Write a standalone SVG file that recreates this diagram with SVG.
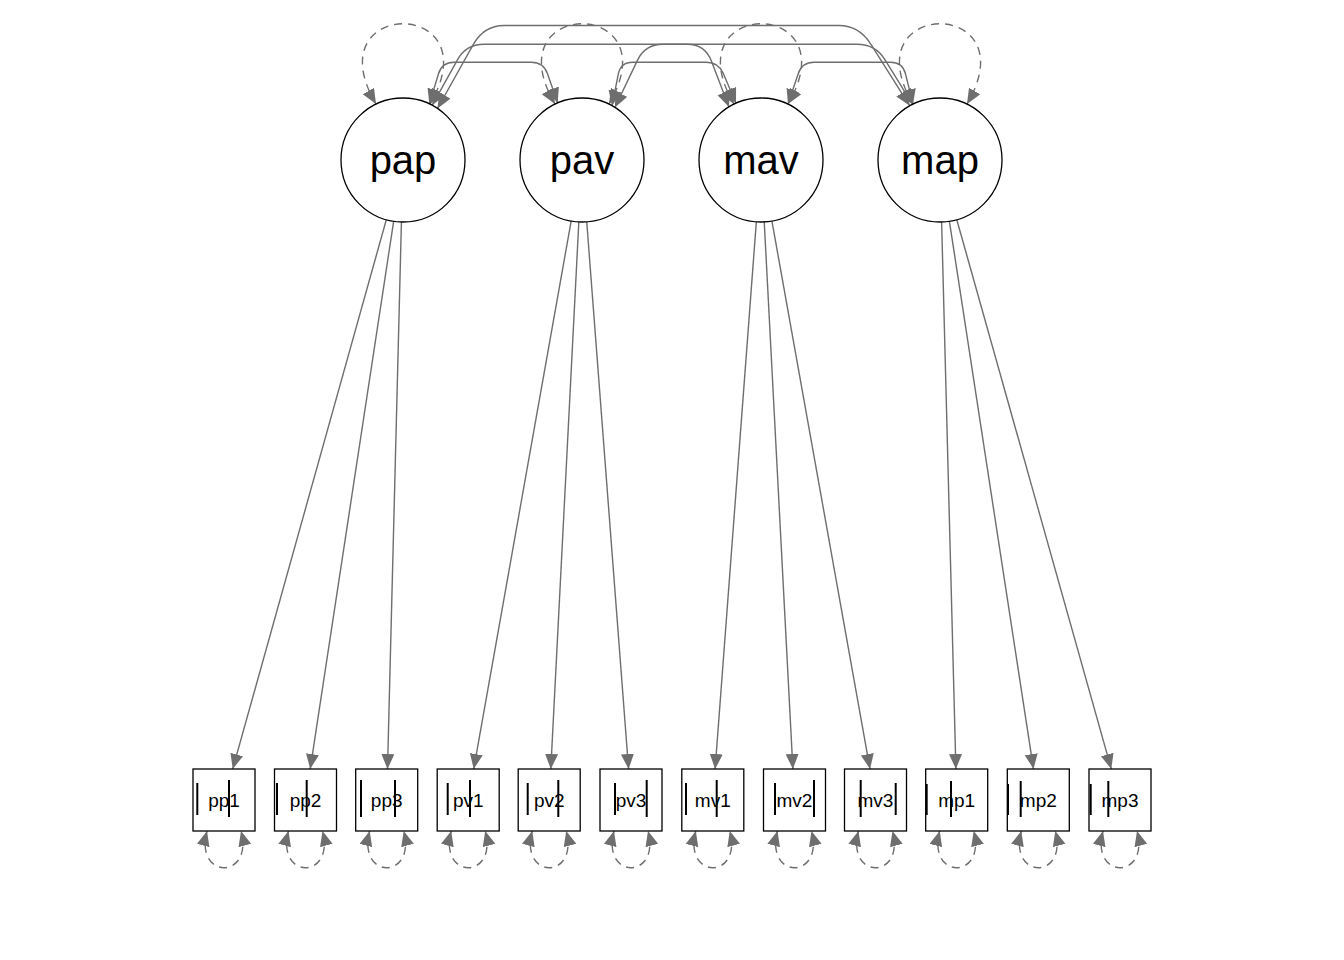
<svg xmlns="http://www.w3.org/2000/svg" width="1344" height="960" viewBox="0 0 1344 960">
<style>
.edge{fill:none;stroke:#6e6e6e;stroke-width:1.4}
.loop{fill:none;stroke:#6e6e6e;stroke-width:1.4;stroke-dasharray:8,6}
.lat{fill:#fff;stroke:#000;stroke-width:1.3}
.man{fill:#fff;stroke:#000;stroke-width:1.3}
.thr{stroke:#000;stroke-width:2}
.ll{font-family:"Liberation Sans",Arial,sans-serif;font-size:40px;text-anchor:middle;fill:#000}
.ml{font-family:"Liberation Sans",Arial,sans-serif;font-size:19px;text-anchor:middle;fill:#000}
</style>
<defs>
<marker id="ah" markerUnits="userSpaceOnUse" viewBox="0 0 16 14" markerWidth="16" markerHeight="14" refX="15" refY="6.5" orient="auto-start-reverse">
<path d="M0,0 L15,6.5 L0,13 z" fill="#6e6e6e"/>
</marker>
</defs>
<rect width="1344" height="960" fill="#fff"/>
<g id="connectors">
<!-- loadings -->
<path class="edge" marker-end="url(#ah)" d="M386.3,219.7 L232.7,769"/>
<path class="edge" marker-end="url(#ah)" d="M393.66,221.3 L310.2,769"/>
<path class="edge" marker-end="url(#ah)" d="M401.42,221.98 L387.5,769"/>
<path class="edge" marker-end="url(#ah)" d="M571.15,221.05 L473.7,769"/>
<path class="edge" marker-end="url(#ah)" d="M578.83,221.92 L550.8,769"/>
<path class="edge" marker-end="url(#ah)" d="M586.73,221.82 L628.6,769"/>
<path class="edge" marker-end="url(#ah)" d="M756.34,221.83 L715.1,769"/>
<path class="edge" marker-end="url(#ah)" d="M764.24,221.92 L792.9,769"/>
<path class="edge" marker-end="url(#ah)" d="M771.92,221.03 L870,769"/>
<path class="edge" marker-end="url(#ah)" d="M941.62,221.98 L955.9,769"/>
<path class="edge" marker-end="url(#ah)" d="M949.41,221.28 L1033.5,769"/>
<path class="edge" marker-end="url(#ah)" d="M956.79,219.69 L1111.3,769"/>
<!-- covariances -->
<path class="edge" marker-start="url(#ah)" marker-end="url(#ah)" d="M437.5,108.5 L473.2,44.7 Q484,25.5 504,25.5 H839 Q859,25.5 870.8,44.1 L909.8,105.8"/>
<path class="edge" marker-start="url(#ah)" marker-end="url(#ah)" d="M432.2,105.3 L457.3,60.05 Q466,44.3 484,44.3 H687 Q705,44.3 711.4,61.1 L729,106.9"/>
<path class="edge" marker-start="url(#ah)" marker-end="url(#ah)" d="M614.9,107.5 L637.3,60.6 Q645,44.3 663,44.3 H857 Q875.4,44.3 884.9,59.6 L912.6,104.3"/>
<path class="edge" marker-start="url(#ah)" marker-end="url(#ah)" d="M429.4,103.9 L438.5,73.8 Q442,62.3 454,62.3 H531.4 Q543.4,62.3 547.4,73.6 L557.7,102.9"/>
<path class="edge" marker-start="url(#ah)" marker-end="url(#ah)" d="M612,105.7 L618.3,74.1 Q620.7,62.3 632.7,62.3 H706.4 Q718.4,62.3 723.2,73.3 L736,103.2"/>
<path class="edge" marker-start="url(#ah)" marker-end="url(#ah)" d="M788,104.2 L798.2,73.7 Q802,62.3 814,62.3 H890.6 Q902.6,62.3 905.5,73.9 L913,104.2"/>
<!-- latent variances -->
<path class="loop" marker-start="url(#ah)" marker-end="url(#ah)" d="M376,104 C313,-3 493,-3 430,104"/>
<path class="loop" marker-start="url(#ah)" marker-end="url(#ah)" d="M555,104 C492,-3 672,-3 609,104"/>
<path class="loop" marker-start="url(#ah)" marker-end="url(#ah)" d="M734,104 C671,-3 851,-3 788,104"/>
<path class="loop" marker-start="url(#ah)" marker-end="url(#ah)" d="M913,104 C850,-3 1030,-3 967,104"/>
<!-- manifest residuals -->
<path class="loop" marker-start="url(#ah)" marker-end="url(#ah)" d="M207,831 C194,880 254,880 241,831"/>
<path class="loop" marker-start="url(#ah)" marker-end="url(#ah)" d="M288.5,831 C275.5,880 335.5,880 322.5,831"/>
<path class="loop" marker-start="url(#ah)" marker-end="url(#ah)" d="M369.7,831 C356.7,880 416.7,880 403.7,831"/>
<path class="loop" marker-start="url(#ah)" marker-end="url(#ah)" d="M451.2,831 C438.2,880 498.2,880 485.2,831"/>
<path class="loop" marker-start="url(#ah)" marker-end="url(#ah)" d="M532.2,831 C519.2,880 579.2,880 566.2,831"/>
<path class="loop" marker-start="url(#ah)" marker-end="url(#ah)" d="M614,831 C601,880 661,880 648,831"/>
<path class="loop" marker-start="url(#ah)" marker-end="url(#ah)" d="M695.8,831 C682.8,880 742.8,880 729.8,831"/>
<path class="loop" marker-start="url(#ah)" marker-end="url(#ah)" d="M777.5,831 C764.5,880 824.5,880 811.5,831"/>
<path class="loop" marker-start="url(#ah)" marker-end="url(#ah)" d="M858.5,831 C845.5,880 905.5,880 892.5,831"/>
<path class="loop" marker-start="url(#ah)" marker-end="url(#ah)" d="M939.7,831 C926.7,880 986.7,880 973.7,831"/>
<path class="loop" marker-start="url(#ah)" marker-end="url(#ah)" d="M1021.3,831 C1008.3,880 1068.3,880 1055.3,831"/>
<path class="loop" marker-start="url(#ah)" marker-end="url(#ah)" d="M1103,831 C1090,880 1150,880 1137,831"/>
</g>
<g id="pap"><circle class="lat" cx="403" cy="160" r="62"/><text class="ll" x="403" y="174">pap</text></g>
<g id="pav"><circle class="lat" cx="582" cy="160" r="62"/><text class="ll" x="582" y="174">pav</text></g>
<g id="mav"><circle class="lat" cx="761" cy="160" r="62"/><text class="ll" x="761" y="174">mav</text></g>
<g id="map"><circle class="lat" cx="940" cy="160" r="62"/><text class="ll" x="940" y="174">map</text></g>
<g id="pp1"><rect class="man" x="193" y="769" width="62" height="62"/><text class="ml" x="224" y="807">pp1</text><line class="thr" x1="197.3" y1="783" x2="197.3" y2="815"/><line class="thr" x1="229" y1="780" x2="229" y2="817"/></g>
<g id="pp2"><rect class="man" x="274.5" y="769" width="62" height="62"/><text class="ml" x="305.5" y="807">pp2</text><line class="thr" x1="277" y1="783" x2="277" y2="815"/><line class="thr" x1="306.7" y1="780" x2="306.7" y2="817"/></g>
<g id="pp3"><rect class="man" x="355.7" y="769" width="62" height="62"/><text class="ml" x="386.7" y="807">pp3</text><line class="thr" x1="361" y1="780" x2="361" y2="817"/><line class="thr" x1="395" y1="780" x2="395" y2="817"/></g>
<g id="pv1"><rect class="man" x="437.2" y="769" width="62" height="62"/><text class="ml" x="468.2" y="807">pv1</text><line class="thr" x1="447.7" y1="783" x2="447.7" y2="815"/><line class="thr" x1="470" y1="780" x2="470" y2="817"/></g>
<g id="pv2"><rect class="man" x="518.2" y="769" width="62" height="62"/><text class="ml" x="549.2" y="807">pv2</text><line class="thr" x1="527.7" y1="783" x2="527.7" y2="815"/><line class="thr" x1="558.3" y1="780" x2="558.3" y2="817"/></g>
<g id="pv3"><rect class="man" x="600" y="769" width="62" height="62"/><text class="ml" x="631" y="807">pv3</text><line class="thr" x1="615" y1="783" x2="615" y2="815"/><line class="thr" x1="646.7" y1="780" x2="646.7" y2="817"/></g>
<g id="mv1"><rect class="man" x="681.8" y="769" width="62" height="62"/><text class="ml" x="712.8" y="807">mv1</text><line class="thr" x1="686" y1="783" x2="686" y2="815"/><line class="thr" x1="716.7" y1="780" x2="716.7" y2="817"/></g>
<g id="mv2"><rect class="man" x="763.5" y="769" width="62" height="62"/><text class="ml" x="794.5" y="807">mv2</text><line class="thr" x1="775" y1="783" x2="775" y2="815"/><line class="thr" x1="814" y1="780" x2="814" y2="817"/></g>
<g id="mv3"><rect class="man" x="844.5" y="769" width="62" height="62"/><text class="ml" x="875.5" y="807">mv3</text><line class="thr" x1="860.7" y1="780" x2="860.7" y2="817"/><line class="thr" x1="895.7" y1="783" x2="895.7" y2="815"/></g>
<g id="mp1"><rect class="man" x="925.7" y="769" width="62" height="62"/><text class="ml" x="956.7" y="807">mp1</text><line class="thr" x1="926.7" y1="784" x2="926.7" y2="815"/><line class="thr" x1="951" y1="781" x2="951" y2="817"/></g>
<g id="mp2"><rect class="man" x="1007.3" y="769" width="62" height="62"/><text class="ml" x="1038.3" y="807">mp2</text><line class="thr" x1="1008" y1="784" x2="1008" y2="815"/><line class="thr" x1="1020.7" y1="781" x2="1020.7" y2="817"/></g>
<g id="mp3"><rect class="man" x="1089" y="769" width="62" height="62"/><text class="ml" x="1120" y="807">mp3</text><line class="thr" x1="1090.7" y1="784" x2="1090.7" y2="815"/><line class="thr" x1="1108.3" y1="781" x2="1108.3" y2="817"/></g>
</svg>
